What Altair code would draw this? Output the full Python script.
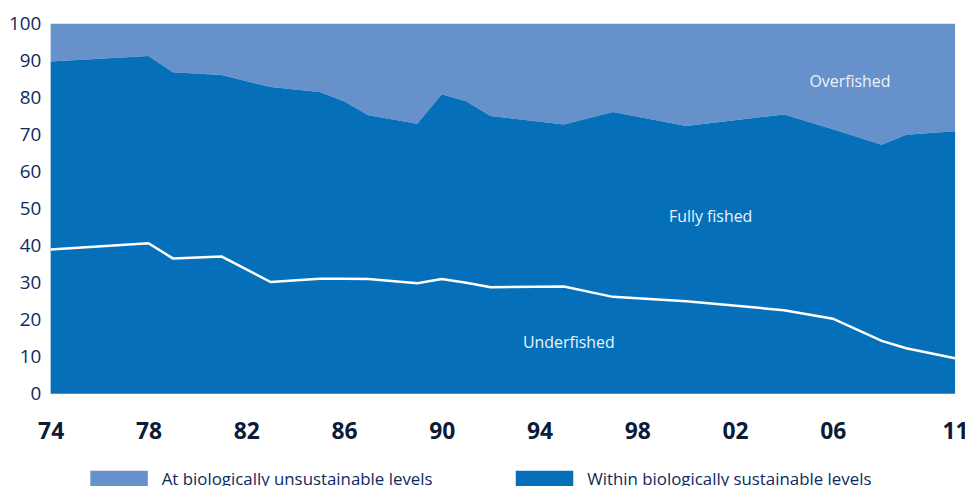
import altair as alt
import pandas as pd

years = [1974, 1978, 1979, 1981, 1983, 1985, 1986, 1987, 1989, 1990, 1991,
         1992, 1995, 1997, 2000, 2004, 2006, 2008, 2009, 2011]
sustainable = [89.8, 91.3, 86.9, 86.2, 82.9, 81.6, 79.1, 75.3, 73.0, 81.0, 79.1,
               75.1, 72.8, 76.2, 72.4, 75.5, 71.5, 67.3, 70.0, 71.0]
underfished = [39.0, 40.7, 36.6, 37.1, 30.2, 31.1, 31.1, 31.0, 29.9, 31.0, 30.0,
               28.8, 29.0, 26.2, 25.0, 22.6, 20.3, 14.3, 12.3, 9.6]

categories = ["At biologically unsustainable levels", "Within biologically sustainable levels"]
colors = ["#6691CB", "#0570B9"]

x_ticks = [1974, 1978, 1982, 1986, 1990, 1994, 1998, 2002, 2006, 2011]
y_ticks = list(range(0, 101, 10))

ann_text = ["Overfished", "Fully fished", "Underfished"]
ann_year = [2006.7, 2001.0, 1995.2]
ann_value = [84.2, 47.7, 13.7]

rows = []
for yr, s in zip(years, sustainable):
    rows.append({"year": yr, "category": categories[0], "lo": s, "hi": 100})
    rows.append({"year": yr, "category": categories[1], "lo": 0, "hi": s})
area_df = pd.DataFrame(rows)
line_df = pd.DataFrame({"year": years, "value": underfished})
ann_df = pd.DataFrame({"label": ann_text, "year": ann_year, "value": ann_value})

navy = "#0E2A5C"

x_scale = alt.Scale(domain=[1974, 2011], nice=False, zero=False)
x_axis = alt.Axis(values=x_ticks, labelExpr="substring(toString(datum.value), 2)",
                  labelFontSize=23, labelFontWeight="bold", labelColor="#0B1B38",
                  labelFont="Open Sans", labelPadding=27, ticks=False, domain=False,
                  grid=False, title=None, labelFlush=False, labelOverlap=False)
y_scale = alt.Scale(domain=[0, 100], nice=False, zero=True)
y_axis = alt.Axis(values=y_ticks, tickCount=11, labelFontSize=19, labelColor=navy,
                  labelFont="Open Sans", labelFontWeight=500, labelPadding=10, ticks=False,
                  domain=False, grid=False, title=None, labelOverlap=False, labelFlush=False)

area = alt.Chart(area_df).mark_area(interpolate="linear", opacity=1).encode(
    x=alt.X("year:Q", scale=x_scale, axis=x_axis),
    y=alt.Y("lo:Q", scale=y_scale, axis=y_axis),
    y2="hi:Q",
    color=alt.Color("category:N",
                    scale=alt.Scale(domain=categories, range=colors),
                    legend=alt.Legend(orient="none", legendX=40, legendY=431, direction="horizontal",
                                      title=None, symbolType="M-1,-0.33H1V0.33H-1Z",
                                      symbolSize=3364, symbolStrokeWidth=0, symbolOpacity=1,
                                      labelFontSize=17, labelColor=navy, labelFont="Open Sans",
                                      labelOffset=14, columnPadding=83, padding=0, labelLimit=500)),
)

line = alt.Chart(line_df).mark_line(color="white", strokeWidth=2.5).encode(
    x=alt.X("year:Q", scale=x_scale, axis=x_axis),
    y=alt.Y("value:Q", scale=y_scale, axis=y_axis))

text = alt.Chart(ann_df).mark_text(font="Open Sans", fontSize=16, color="#EEF3FA").encode(
    x=alt.X("year:Q", scale=x_scale, axis=x_axis),
    y=alt.Y("value:Q", scale=y_scale, axis=y_axis),
    text="label:N")

chart = alt.layer(area, line, text).properties(
    width=912, height=373,
    padding={"left": 43, "top": 14, "right": 10, "bottom": 91},
    autosize=alt.AutoSizeParams(type="none"),
).configure_view(stroke=None)

chart.save("out.html", embed_options={"renderer": "svg", "actions": False})
